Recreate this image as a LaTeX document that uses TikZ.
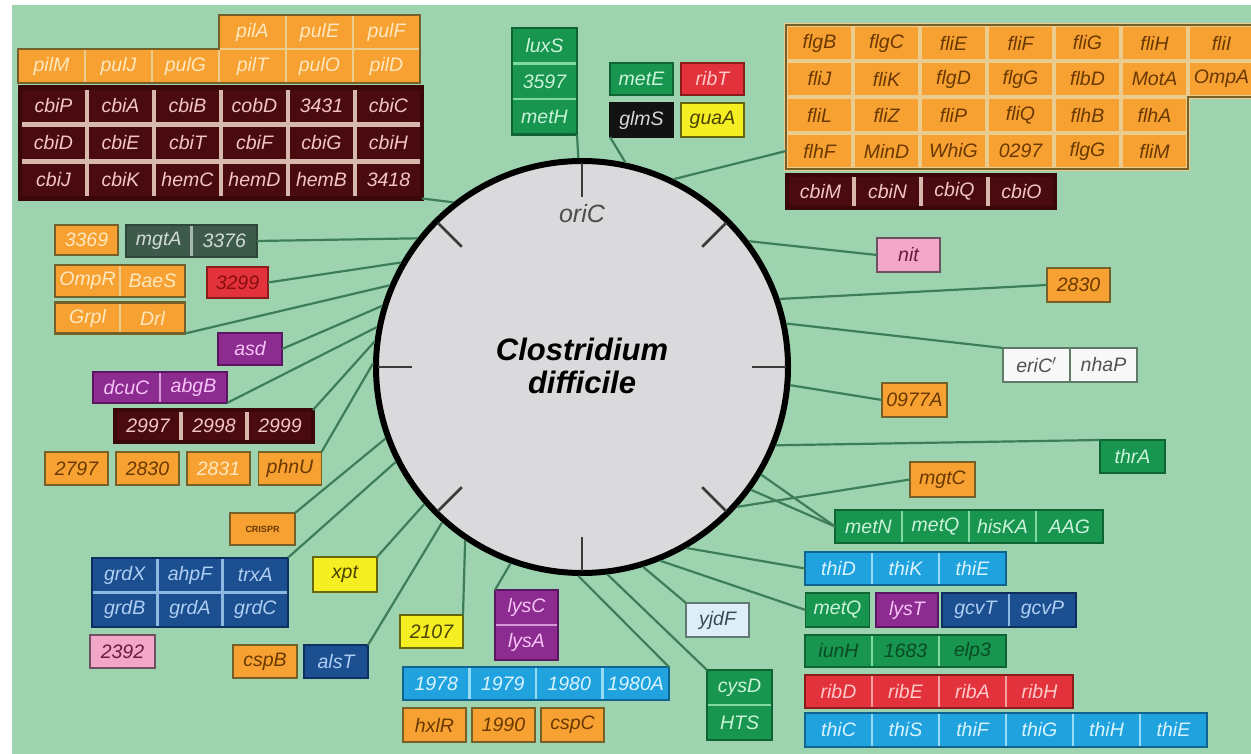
\documentclass[tikz,border=0pt]{standalone}
\usepackage{fontspec}
\newfontfamily\arialf{Liberation Sans}
\newcommand{\genefont}{\arialf\itshape\fontsize{19.5}{21}\selectfont}

\definecolor{bgMint}{HTML}{9DD3AF}
\definecolor{cDisc}{HTML}{DADADD}
\definecolor{cLink}{HTML}{3E7D59}
\definecolor{cTick}{HTML}{3A3A3A}
\definecolor{cOrg}{HTML}{F6A132}\definecolor{cOrgS}{HTML}{EBCB8E}\definecolor{cOrgE}{HTML}{76602A}
\definecolor{cOrgT}{HTML}{6A3800}\definecolor{cOrgL}{HTML}{FFE8C0}
\definecolor{cMar}{HTML}{4A0B10}\definecolor{cMarS}{HTML}{D6B8AC}\definecolor{cMarE}{HTML}{3A0808}\definecolor{cMarT}{HTML}{F3C6C6}
\definecolor{cGrn}{HTML}{18954F}\definecolor{cGrnS}{HTML}{80D8A2}\definecolor{cGrnE}{HTML}{0E6433}
\definecolor{cGrnT}{HTML}{CCF4DA}\definecolor{cGrnD}{HTML}{0A4A24}
\definecolor{cRed}{HTML}{E2323C}\definecolor{cRedS}{HTML}{F4A0A0}\definecolor{cRedE}{HTML}{8A1C1C}
\definecolor{cRedT}{HTML}{FFCACA}\definecolor{cRedD}{HTML}{8A0C10}
\definecolor{cPur}{HTML}{8C2B90}\definecolor{cPurS}{HTML}{D596DA}\definecolor{cPurE}{HTML}{5A1660}\definecolor{cPurT}{HTML}{F6C4F6}
\definecolor{cDbl}{HTML}{1C4F90}\definecolor{cDblS}{HTML}{8CB8E2}\definecolor{cDblE}{HTML}{0E3060}\definecolor{cDblT}{HTML}{AFCFF5}
\definecolor{cLbl}{HTML}{1FA2DE}\definecolor{cLblS}{HTML}{96DAF6}\definecolor{cLblE}{HTML}{106590}\definecolor{cLblT}{HTML}{DAF4FF}
\definecolor{cYel}{HTML}{F4EE22}\definecolor{cYelE}{HTML}{66660E}\definecolor{cYelT}{HTML}{4A4200}
\definecolor{cPnk}{HTML}{F3A7C8}\definecolor{cPnkE}{HTML}{6E5060}\definecolor{cPnkT}{HTML}{6A1A3C}
\definecolor{cBlk}{HTML}{121212}\definecolor{cBlkT}{HTML}{D8D8D8}
\definecolor{cWht}{HTML}{F8F8F8}\definecolor{cWhtE}{HTML}{607A68}\definecolor{cWhtT}{HTML}{505050}
\definecolor{cSlt}{HTML}{3E5A4B}\definecolor{cSltS}{HTML}{A8B8AE}\definecolor{cSltE}{HTML}{2E463A}\definecolor{cSltT}{HTML}{D2DCD4}
\definecolor{cIce}{HTML}{DDEEF6}\definecolor{cIceE}{HTML}{5E7A70}\definecolor{cIceT}{HTML}{3A4A5A}

\tikzset{
  cell/.style={rectangle, inner sep=0pt, outer sep=0pt, minimum width=67pt, minimum height=34pt, font=\genefont, line width=2.5pt},
  solo/.style={draw=#1, line width=1.8pt, minimum width=63pt},
  rim/.style={draw=#1, line width=2.5pt},
  link/.style={draw=cLink, line width=2.2pt},
  tickln/.style={draw=cTick, line width=2.6pt},
  orgL/.style={fill=cOrg, text=cOrgL, draw=cOrgS},
  orgD/.style={fill=cOrg, text=cOrgT, draw=cOrgS},
  mar/.style={fill=cMar, text=cMarT, draw=cMarS, line width=4.5pt},
  grn/.style={fill=cGrn, text=cGrnT, draw=cGrnS},
  grnD/.style={fill=cGrn, text=cGrnD, draw=cGrnS},
  rd/.style={fill=cRed, text=cRedT, draw=cRedS},
  rdD/.style={fill=cRed, text=cRedD, draw=cRedS},
  pur/.style={fill=cPur, text=cPurT, draw=cPurS},
  dbl/.style={fill=cDbl, text=cDblT, draw=cDblS},
  lbl/.style={fill=cLbl, text=cLblT, draw=cLblS},
  yel/.style={fill=cYel, text=cYelT, draw=cYelE},
  pnk/.style={fill=cPnk, text=cPnkT, draw=cPnkE},
  blk/.style={fill=cBlk, text=cBlkT, draw=cBlk},
  wht/.style={fill=cWht, text=cWhtT, draw=cWhtE},
  slt/.style={fill=cSlt, text=cSltT, draw=cSltS},
  ice/.style={fill=cIce, text=cIceT, draw=cIceE}
}

% a row / a column of gene cells
\newcommand{\generow}[6]{%
  \foreach \g [count=\i] in {#5} {\node[cell, #4] (#1\i) at ({#2+(\i-1)*#6}, #3) {\g};}}
\newcommand{\genecol}[6]{%
  \foreach \g [count=\i] in {#5} {\node[cell, #4] (#1\i) at (#2, {#3+(\i-1)*#6}) {\g};}}

\begin{document}
\begin{tikzpicture}[x=1pt, y=-1pt]
    \useasboundingbox (0,0) rectangle (1251,754);
    \clip (0,0) rectangle (1251,754);
    \fill[white] (0,0) rectangle (1251,754);
    \fill[bgMint] (12,5) rectangle (1251,754);

    % Chromosome
    \node[circle, minimum size=412pt, draw=black, line width=6pt, fill=cDisc, outer sep=3pt, inner sep=0pt] (chrom) at (582,367) {};
    \foreach \a in {0,45,...,315} {
        \draw[tickln] ([shift={(\a:170)}]chrom.center) -- ([shift={(\a:204)}]chrom.center);
    }
    \node[font=\arialf\itshape\fontsize{25}{27}\selectfont, text=black!70] (ori) at (582,214) {oriC};
    \node[font=\arialf\bfseries\itshape\fontsize{31}{33}\selectfont, align=center] (title) at (582,366) {Clostridium\\difficile};

    % Top left: pul / cbi
    \generow{pa}{252.5}{32}{orgL}{pilA,pulE,pulF}{67}
    \generow{pb}{51.5}{66}{orgL}{pilM,pulJ,pulG,pilT,pulO,pilD}{67}
    \draw[rim=cOrgE] (pb1.north west) -- (pa1.south west) -- (pa1.north west) -- (pa3.north east) -- (pb6.south east) -- (pb1.south west) -- cycle;
    \generow{ca}{53.5}{106}{mar, minimum height=37pt}{cbiP,cbiA,cbiB,cobD,3431,cbiC}{67}
    \generow{cb}{53.5}{143}{mar, minimum height=37pt}{cbiD,cbiE,cbiT,cbiF,cbiG,cbiH}{67}
    \generow{cc}{53.5}{180}{mar, minimum height=37pt}{cbiJ,cbiK,hemC,hemD,hemB,3418}{67}
    \draw[rim=cMarE, line width=4.5pt] (ca1.north west) rectangle (cc6.south east);

    % Top middle
    \genecol{lx}{544.5}{46}{grn, minimum width=65pt, minimum height=35.5pt}{luxS,3597,metH}{35.5}
    \draw[rim=cGrnE] (lx1.north west) rectangle (lx3.south east);
    \node[cell, grn, solo=cGrnE, minimum height=32pt] (metE) at (641.5,79) {metE};
    \node[cell, rd, solo=cRedE, minimum height=32pt] (nbT) at (712.5,79) {ribT};
    \node[cell, blk, solo=cBlk, minimum height=34pt] (glmS) at (641.5,120) {glmS};
    \node[cell, yel, solo=cYelE, minimum height=34pt] (guaA) at (712.5,120) {guaA};

    % Top right: flagellar block
    \generow{fa}{819.5}{43}{orgD, line width=4pt, minimum height=36pt}{flgB,flgC,fliE,fliF,fliG,fliH,fliI}{67}
    \generow{fb}{819.5}{79}{orgD, line width=4pt, minimum height=36pt}{fliJ,fliK,flgD,flgG,flbD,MotA,OmpA}{67}
    \generow{fc}{819.5}{115}{orgD, line width=4pt, minimum height=36pt}{fliL,fliZ,fliP,fliQ,flhB,flhA}{67}
    \generow{fd}{819.5}{151}{orgD, line width=4pt, minimum height=36pt}{flhF,MinD,WhiG,0297,flgG,fliM}{67}
    \draw[rim=cOrgE] (fa1.north west) -- (fa7.north east) -- (fb7.south east) -- (fc6.north east) -- (fd6.south east) -- (fd1.south west) -- cycle;
    \generow{cm}{820.5}{191.5}{mar, minimum height=33pt}{cbiM,cbiN,cbiQ,cbiO}{67}
    \draw[rim=cMarE, line width=4.5pt] (cm1.north west) rectangle (cm4.south east);

    % Left side
    \node[cell, orgL, solo=cOrgE, minimum height=30pt] (n3369) at (86.5,240) {3369};
    \generow{mg}{158.75}{241}{slt, minimum width=65.5pt, minimum height=32pt}{mgtA,3376}{65.5}
    \draw[rim=cSltE] (mg1.north west) rectangle (mg2.south east);
    \generow{om}{87.5}{281}{orgL, minimum width=65pt, minimum height=32pt}{OmpR,BaeS}{65}
    \draw[rim=cOrgE] (om1.north west) rectangle (om2.south east);
    \node[cell, rdD, solo=cRedE, minimum width=61pt, minimum height=31pt] (r3299) at (237.5,282.5) {3299};
    \generow{gp}{87.5}{318}{orgL, minimum width=65pt, minimum height=31pt}{Grpl,Drl}{65}
    \draw[rim=cOrgE] (gp1.north west) rectangle (gp2.south east);
    \node[cell, pur, solo=cPurE, minimum width=64pt, minimum height=32pt] (asd) at (250,349) {asd};
    \generow{dc}{126.5}{387.5}{pur, minimum height=31pt}{dcuC,abgB}{67}
    \draw[rim=cPurE] (dc1.north west) rectangle (dc2.south east);
    \generow{cd}{148}{426}{mar, minimum width=66pt, minimum height=32pt}{2997,2998,2999}{66}
    \draw[rim=cMarE, line width=4.5pt] (cd1.north west) rectangle (cd3.south east);
    \node[cell, orgD, solo=cOrgE, minimum height=33pt] (ph1) at (76.5,468.5) {2797};
    \node[cell, orgD, solo=cOrgE, minimum height=33pt] (ph2) at (147.5,468.5) {2830};
    \node[cell, orgL, solo=cOrgE, minimum height=33pt] (ph3) at (218.5,468.5) {2831};
    \node[cell, orgD, solo=cOrgE, minimum height=33pt] (ph4) at (290,468.5) {phnU};
    \node[cell, orgD, solo=cOrgE, minimum width=65pt, minimum height=32pt, font=\arialf\bfseries\fontsize{9}{10}\selectfont] (crispr) at (262.5,529) {CRISPR};
    \generow{ga}{124.7}{575}{dbl, minimum width=65.3pt, minimum height=34.5pt}{grdX,ahpF,trxA}{65.3}
    \generow{gb}{124.7}{609.5}{dbl, minimum width=65.3pt, minimum height=34.5pt}{grdB,grdA,grdC}{65.3}
    \draw[rim=cDblE] (ga1.north west) rectangle (gb3.south east);
    \node[cell, pnk, solo=cPnkE, minimum width=65pt, minimum height=33pt] (n2392) at (122.5,651.5) {2392};
    \node[cell, yel, solo=cYelE, minimum width=64pt, minimum height=35pt] (xpt) at (345,574.5) {xpt};
    \node[cell, orgD, solo=cOrgE, minimum width=64pt, minimum height=33pt] (cspB) at (265,661.5) {cspB};
    \node[cell, dbl, solo=cDblE, minimum width=64pt, minimum height=33pt] (alsT) at (336,661.5) {alsT};

    % Bottom
    \node[cell, yel, solo=cYelE, minimum height=33pt] (n2107) at (431.5,631.5) {2107};
    \genecol{ly}{526.5}{607.5}{pur, minimum width=63pt, minimum height=35pt}{lysC,lysA}{35}
    \draw[rim=cPurE] (ly1.north west) rectangle (ly2.south east);
    \generow{nr}{436.25}{683.5}{lbl, minimum width=66.5pt, minimum height=33pt}{1978,1979,1980,1980A}{66.5}
    \draw[rim=cLblE] (nr1.north west) rectangle (nr4.south east);
    \node[cell, orgD, solo=cOrgE, minimum height=34pt] (hx1) at (434.5,725) {hxlR};
    \node[cell, orgD, solo=cOrgE, minimum height=34pt] (hx2) at (503.5,725) {1990};
    \node[cell, orgD, solo=cOrgE, minimum height=34pt] (hx3) at (572.5,725) {cspC};
    \node[cell, ice, solo=cIceE, minimum height=34pt] (yjdF) at (717.5,620) {yjdF};
    \genecol{cy}{739.5}{687.5}{grn, minimum width=65pt, minimum height=35pt}{cysD,HTS}{35}
    \draw[rim=cGrnE] (cy1.north west) rectangle (cy2.south east);

    % Right side
    \node[cell, pnk, solo=cPnkE, minimum height=34pt] (nit) at (908.5,255) {nit};
    \node[cell, orgD, solo=cOrgE, minimum height=34pt] (n2830r) at (1078.5,285) {2830};
    \generow{er}{1036.5}{365}{wht, minimum height=34pt}{eriC$'$,nhaP}{67}
    \draw[rim=cWhtE] (er1.north west) rectangle (er2.south east);
    \node[cell, orgD, solo=cOrgE, minimum width=65pt, minimum height=34pt] (n0977) at (914.5,400) {0977A};
    \node[cell, grn, solo=cGrnE, minimum width=65pt, minimum height=33pt] (thrA) at (1132.5,456.5) {thrA};
    \node[cell, orgD, solo=cOrgE, minimum width=65pt, minimum height=35pt] (mgtC) at (942.5,479.5) {mgtC};
    \generow{mn}{868.5}{526.5}{grn, minimum height=33pt}{metN,metQ,hisKA,AAG}{67}
    \draw[rim=cGrnE] (mn1.north west) rectangle (mn4.south east);
    \generow{td}{838.5}{568.5}{lbl, minimum height=33pt}{thiD,thiK,thiE}{67}
    \draw[rim=cLblE] (td1.north west) rectangle (td3.south east);
    \node[cell, grn, solo=cGrnE, minimum width=64pt, minimum height=34pt] (metQ) at (837.5,610) {metQ};
    \node[cell, pur, solo=cPurE, minimum width=62pt, minimum height=34pt] (lysT) at (907,610) {lysT};
    \generow{gc}{975.5}{610}{dbl, minimum height=34pt}{gcvT,gcvP}{67}
    \draw[rim=cDblE] (gc1.north west) rectangle (gc2.south east);
    \generow{iu}{838.5}{651}{grnD, minimum height=32pt}{iunH,1683,elp3}{67}
    \draw[rim=cGrnE] (iu1.north west) rectangle (iu3.south east);
    \generow{rb}{838.5}{691.5}{rd, minimum height=33pt}{ribD,ribE,ribA,ribH}{67}
    \draw[rim=cRedE] (rb1.north west) rectangle (rb4.south east);
    \generow{tc}{838.5}{730}{lbl, minimum height=34pt}{thiC,thiS,thiF,thiG,thiH,thiE}{67}
    \draw[rim=cLblE] (tc1.north west) rectangle (tc6.south east);

    % Connectors to the chromosome
    \draw[link] (lx3.south east) -- (chrom.91.4);
    \draw[link] (glmS.south west) -- (chrom.78);
    \draw[link] (fd1.west) -- (chrom.64);
    \draw[link] (nit.west) -- (chrom.37);
    \draw[link] (n2830r.west) -- (chrom.19);
    \draw[link] (er1.north west) -- (chrom.12);
    \draw[link] (n0977.west) -- (chrom.355);
    \draw[link] (thrA.north west) -- (chrom.338);
    \draw[link] (mgtC.west) -- (chrom.318);
    \draw[link] (mn1.west) -- (chrom.324);
    \draw[link] (mn1.west) -- (chrom.329);
    \draw[link] (td1.west) -- (chrom.300);
    \draw[link] (metQ.west) -- (chrom.292);
    \draw[link] (yjdF.north west) -- (chrom.287);
    \draw[link] (cy1.north west) -- (chrom.277);
    \draw[link] (nr4.north east) -- (chrom.269);
    \draw[link] (ly1.north west) -- (chrom.250);
    \draw[link] (n2107.north east) -- (chrom.236);
    \draw[link] (alsT.north east) -- (chrom.228);
    \draw[link] (xpt.north east) -- (chrom.221);
    \draw[link] (ga3.north east) -- (chrom.207);
    \draw[link] (crispr.north east) -- (chrom.200);
    \draw[link] (ph4.north east) -- (chrom.179);
    \draw[link] (cd3.north east) -- (chrom.173);
    \draw[link] (dc2.south east) -- (chrom.169);
    \draw[link] (asd.east) -- (chrom.163);
    \draw[link] (gp2.south east) -- (chrom.157);
    \draw[link] (r3299.east) -- (chrom.150);
    \draw[link] (mg2.east) -- (chrom.142);
    \draw[link] (cc6.south east) -- (chrom.128);
\end{tikzpicture}
\end{document}
